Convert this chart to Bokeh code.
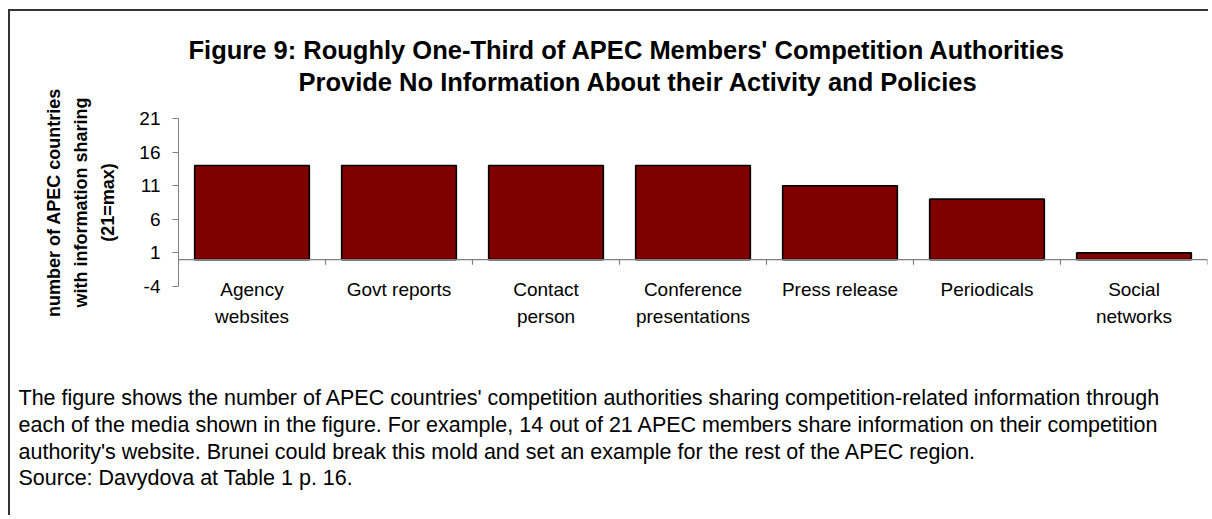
from bokeh.plotting import figure
from bokeh.models import Range1d, FixedTicker, Span, Title
from bokeh.embed import file_html
from bokeh.resources import INLINE

# ---- data ----
categories = ["Agency\nwebsites", "Govt reports", "Contact\nperson", "Conference\npresentations",
              "Press release", "Periodicals", "Social\nnetworks"]
values = [14, 14, 14, 14, 11, 9, 1]
y_ticks = [-4, 1, 6, 11, 16, 21]
title_lines = ["Figure 9: Roughly One-Third of APEC Members' Competition Authorities",
               "Provide No Information About their Activity and Policies"]
ylabel_lines = ["number of APEC countries", "with information sharing", "(21=max)"]
caption_lines = [
    "The figure shows the number of APEC countries' competition authorities sharing competition-related information through",
    "each of the media shown in the figure. For example, 14 out of 21 APEC members share information on their competition",
    "authority's website. Brunei could break this mold and set an example for the rest of the APEC region.",
    "Source: Davydova at Table 1 p. 16.",
]

FONT = "Liberation Sans"
W, H = 1200, 506
FL, FR, FT, FB = 168, 1197, 107, 275  # frame box in canvas px

n = len(categories)
centers = [i + 0.5 for i in range(n)]
bounds = list(range(n + 1))
ymin, ymax = y_ticks[0], y_ticks[-1]

p = figure(width=W, height=H, x_range=Range1d(0, n), y_range=Range1d(ymin, ymax),
           min_border_left=FL, min_border_right=W - FR, min_border_top=FT, min_border_bottom=H - FB,
           toolbar_location=None, output_backend="svg")
p.styles = {"margin-left": "8px", "margin-top": "9px",
            "border-left": "2px solid #333333", "border-top": "2px solid #333333"}
p.outline_line_color = None
p.xgrid.visible = False
p.ygrid.visible = False
p.background_fill_color = "white"
p.border_fill_color = "white"

# bars
p.vbar(x=centers, top=values, width=0.78, fill_color="#800000", line_color="black", line_width=1.6)

# zero line with category boundary ticks
p.add_layout(Span(location=0, dimension="width", line_color="#808080", line_width=1.2))
p.segment(x0=bounds, y0=[0] * len(bounds), x1=bounds, y1=[-0.75] * len(bounds),
          line_color="#808080", line_width=1.2)

# y axis
ya = p.yaxis[0]
ya.ticker = FixedTicker(ticks=y_ticks)
ya.major_label_overrides = {t: str(t) for t in y_ticks}
ya.axis_line_color = "#808080"
ya.major_tick_line_color = "#808080"
ya.major_tick_in = 0
ya.major_tick_out = 6
ya.minor_tick_line_color = None
ya.major_label_text_font = FONT
ya.major_label_text_font_size = "19px"
ya.major_label_text_color = "black"
ya.major_label_standoff = 12
ya.axis_label = "\n".join(ylabel_lines)
ya.axis_label_text_font = FONT
ya.axis_label_text_font_size = "18px"
ya.axis_label_text_font_style = "bold"
ya.axis_label_text_color = "black"
ya.axis_label_text_line_height = 1.36
ya.axis_label_standoff = 18

# x axis
xa = p.xaxis[0]
xa.ticker = FixedTicker(ticks=centers)
xa.major_label_overrides = {c: lab for c, lab in zip(centers, categories)}
xa.axis_line_color = None
xa.major_tick_line_color = None
xa.major_tick_in = 0
xa.major_tick_out = 0
xa.minor_tick_line_color = None
xa.major_label_text_font = FONT
xa.major_label_text_font_size = "19px"
xa.major_label_text_color = "black"
xa.major_label_standoff = -8
xa.major_label_text_line_height = 1.32

# title: spacer, then inner line, then outer line
p.add_layout(Title(text=" ", standoff=20, text_font_size="1px"), "above")
p.add_layout(Title(text=title_lines[1], align="left", offset=120, standoff=0,
                   text_font=FONT, text_font_size="25.5px", text_font_style="bold",
                   text_color="black"), "above")
p.add_layout(Title(text=title_lines[0], align="left", offset=10, standoff=4,
                   text_font=FONT, text_font_size="25.5px", text_font_style="bold",
                   text_color="black"), "above")

# caption: spacer, then text block
p.add_layout(Title(text=" ", standoff=50, text_font_size="1px"), "below")
p.add_layout(Title(text="\n".join(caption_lines), align="left", offset=-160, standoff=0,
                   text_font=FONT, text_font_size="21.5px", text_font_style="normal",
                   text_line_height=1.12, text_color="black"), "below")

open("out.html", "w").write(file_html(p, INLINE))
